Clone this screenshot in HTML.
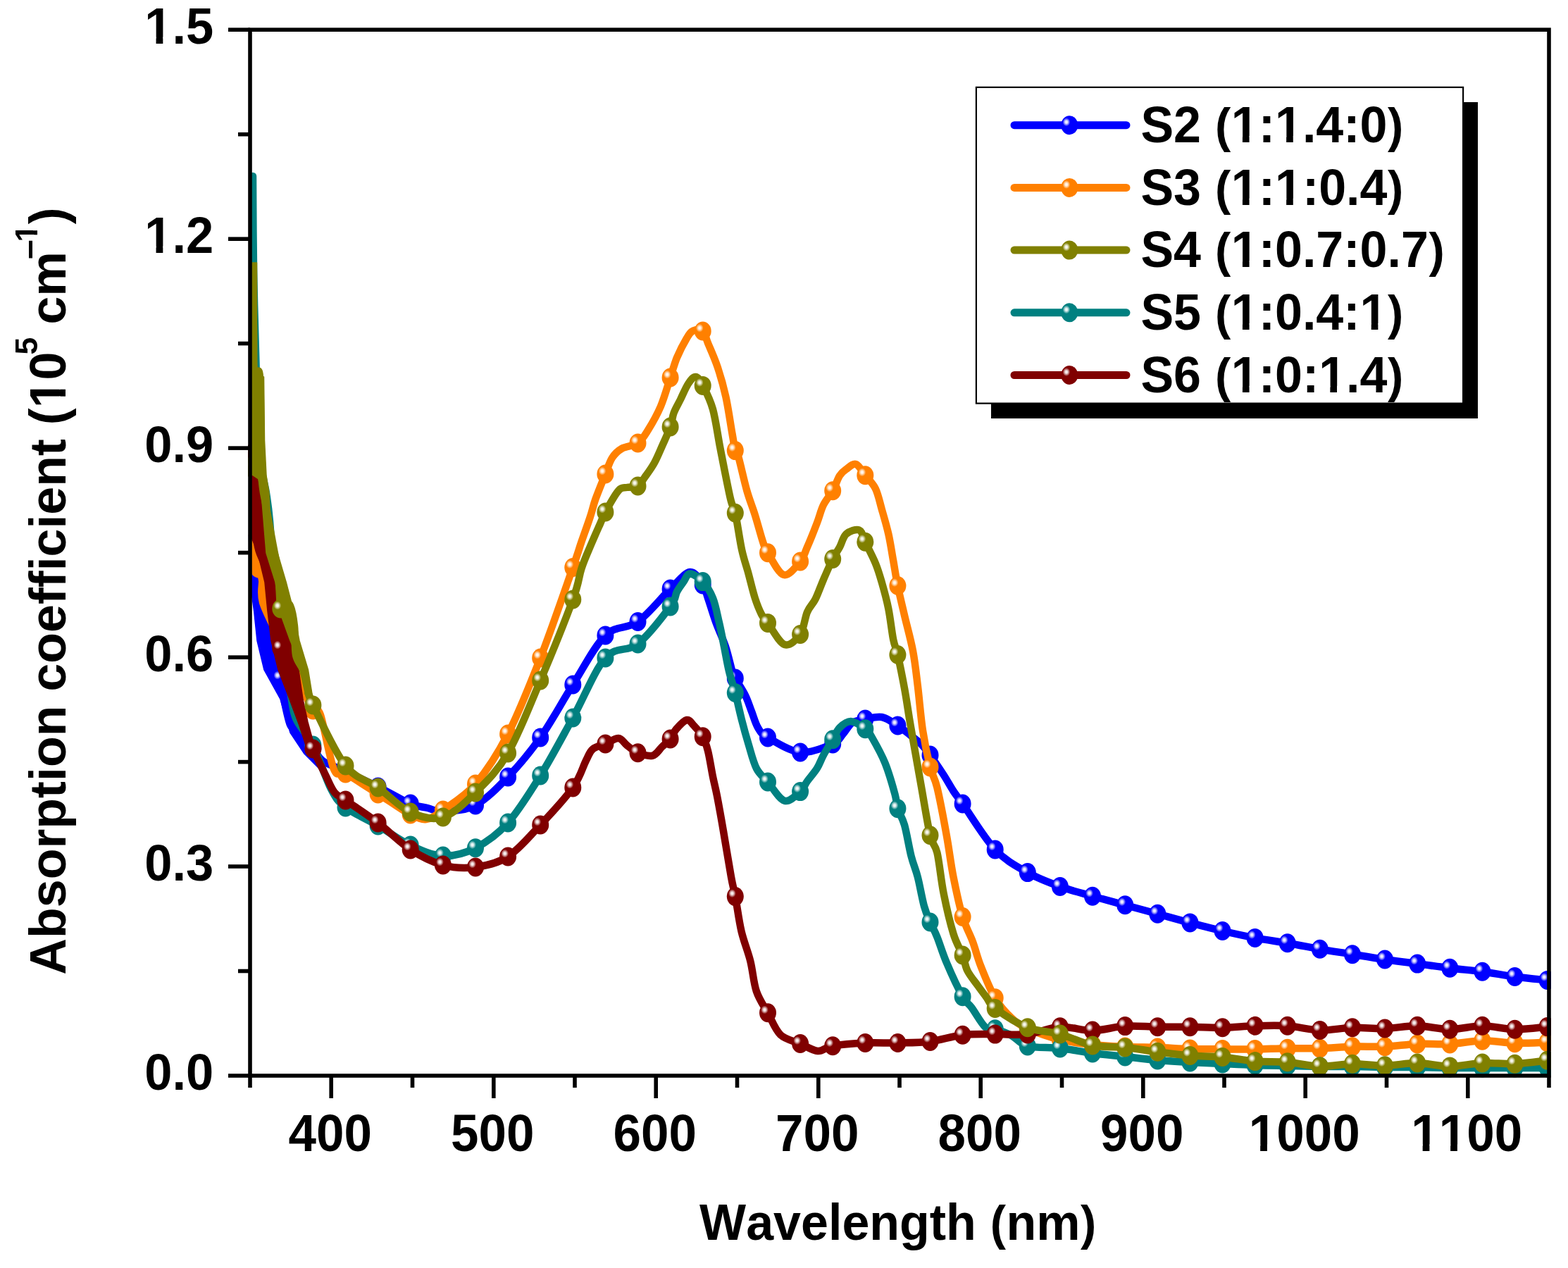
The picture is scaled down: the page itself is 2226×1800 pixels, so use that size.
<!DOCTYPE html>
<html><head><meta charset="utf-8"><title>Absorption coefficient vs Wavelength</title>
<style>html,body{margin:0;padding:0;background:#fff;width:2226px;height:1800px;overflow:hidden;}svg{display:block;}text{font-kerning:none;}</style>
</head><body>
<svg width="2226" height="1800" viewBox="0 0 2226 1800">
<rect width="2226" height="1800" fill="#fff"/>
<defs>
<clipPath id="pc"><rect x="352" y="40" width="1850" height="1490"/></clipPath>
<radialGradient id="hl" cx="0.5" cy="0.5" r="0.5"><stop offset="0" stop-color="#fff" stop-opacity="1"/><stop offset="0.35" stop-color="#fff" stop-opacity="0.85"/><stop offset="1" stop-color="#fff" stop-opacity="0"/></radialGradient>
</defs>
<g clip-path="url(#pc)">
<polygon points="355.0,758.0 361.0,758.0 364.0,785.0 368.0,826.6 381.5,868.0 385.0,909.5 396.0,951.0 412.6,992.5 421.5,1030.0 445.0,1058.0 458.0,1076.0 452.0,1090.0 432.0,1070.0 412.0,1040.0 403.0,1010.0 398.0,992.5 375.0,951.0 365.0,909.5 360.7,868.0 355.0,826.6" fill="#0000ff" stroke="#0000ff" stroke-width="1.5" stroke-linejoin="round"/>
<path d="M358.0,760.0 C358.2,766.7 358.5,786.7 359.0,800.0 C359.5,813.3 359.5,832.5 361.0,840.0 C362.5,847.5 366.2,835.8 368.0,845.0 C369.8,854.2 370.0,881.5 372.0,895.0 C374.0,908.5 377.0,916.0 380.0,926.0 C383.0,936.0 386.9,948.8 390.0,955.0 C393.1,961.2 396.1,956.8 398.3,963.0 C400.5,969.2 400.7,981.0 403.0,992.0 C405.3,1003.0 409.0,1022.0 412.0,1029.0 C415.0,1036.0 415.6,1028.5 421.0,1034.0 C426.4,1039.5 438.2,1054.3 444.4,1062.0 C450.6,1069.7 450.3,1074.5 458.0,1080.0 C465.7,1085.5 477.4,1088.8 490.5,1095.0 C503.6,1101.2 521.3,1109.3 536.6,1117.0 C552.0,1124.7 571.0,1136.0 582.7,1141.0 C594.5,1146.0 599.3,1145.2 607.0,1147.0 C614.7,1148.8 617.5,1152.7 628.9,1152.0 C640.2,1151.3 659.6,1151.2 675.0,1143.0 C690.3,1134.8 705.7,1119.0 721.1,1103.0 C736.4,1087.0 751.8,1068.8 767.2,1047.0 C782.6,1025.2 797.9,996.2 813.3,972.0 C828.7,947.8 844.0,916.9 859.4,902.0 C874.8,887.1 890.1,893.5 905.5,882.5 C920.9,871.5 939.3,847.8 951.6,836.0 C964.0,824.2 971.9,813.0 979.6,812.0 C987.3,811.0 993.5,823.8 997.7,830.0 C1002.0,836.2 1001.9,840.0 1005.0,849.0 C1008.1,858.0 1012.3,872.5 1016.5,884.0 C1020.7,895.5 1026.2,906.5 1030.0,918.0 C1033.8,929.5 1037.2,945.5 1039.5,953.0 C1041.8,960.5 1040.8,957.3 1043.8,963.0 C1046.9,968.7 1054.1,979.2 1058.0,987.0 C1061.9,994.8 1064.0,1002.3 1067.0,1010.0 C1070.0,1017.7 1072.2,1026.8 1076.0,1033.0 C1079.8,1039.2 1079.9,1041.2 1090.0,1047.0 C1100.0,1052.8 1120.7,1066.5 1136.1,1068.0 C1151.4,1069.5 1172.0,1060.3 1182.2,1056.0 C1192.3,1051.7 1192.2,1047.0 1196.8,1042.0 C1201.4,1037.0 1204.8,1029.5 1210.0,1026.0 C1215.2,1022.5 1221.3,1022.3 1228.3,1021.0 C1235.3,1019.7 1244.3,1016.5 1252.0,1018.0 C1259.7,1019.5 1267.5,1025.6 1274.4,1030.0 C1281.3,1034.4 1288.0,1040.2 1293.5,1044.5 C1299.0,1048.8 1302.9,1051.4 1307.4,1056.0 C1311.9,1060.6 1315.1,1064.7 1320.5,1072.0 C1325.9,1079.3 1334.1,1091.5 1339.6,1100.0 C1345.1,1108.5 1349.0,1116.2 1353.5,1123.0 C1358.0,1129.8 1356.7,1127.2 1366.6,1141.0 C1376.5,1154.8 1397.3,1189.7 1412.7,1206.0 C1428.1,1222.3 1443.5,1229.8 1458.8,1238.6 C1474.2,1247.3 1489.6,1252.9 1504.9,1258.5 C1520.3,1264.1 1535.7,1267.8 1551.0,1272.2 C1566.4,1276.6 1581.8,1280.5 1597.2,1284.7 C1612.5,1288.9 1627.9,1293.1 1643.3,1297.3 C1658.6,1301.5 1674.0,1305.9 1689.4,1309.9 C1704.8,1313.9 1720.1,1317.9 1735.5,1321.5 C1750.9,1325.1 1766.2,1328.5 1781.6,1331.4 C1797.0,1334.3 1812.3,1336.1 1827.7,1338.7 C1843.1,1341.3 1858.5,1344.6 1873.8,1347.3 C1889.2,1350.0 1904.6,1352.2 1919.9,1354.7 C1935.3,1357.2 1950.7,1359.8 1966.0,1362.0 C1981.4,1364.2 1996.8,1366.0 2012.1,1368.1 C2027.5,1370.1 2042.9,1372.4 2058.3,1374.3 C2073.6,1376.2 2089.0,1377.2 2104.4,1379.2 C2119.7,1381.2 2135.1,1384.5 2150.5,1386.5 C2165.8,1388.5 2188.9,1390.6 2196.6,1391.4" fill="none" stroke="#0000ff" stroke-width="10.5" stroke-linejoin="round" stroke-linecap="round"/>
<ellipse cx="398.3" cy="963.0" rx="12.0" ry="13.5" fill="#0000ff"/><ellipse cx="393.9" cy="958.6" rx="5.4" ry="6" fill="url(#hl)"/>
<ellipse cx="444.4" cy="1062.0" rx="12.0" ry="13.5" fill="#0000ff"/><ellipse cx="440.0" cy="1057.6" rx="5.4" ry="6" fill="url(#hl)"/>
<ellipse cx="490.5" cy="1095.0" rx="12.0" ry="13.5" fill="#0000ff"/><ellipse cx="486.1" cy="1090.6" rx="5.4" ry="6" fill="url(#hl)"/>
<ellipse cx="536.6" cy="1117.0" rx="12.0" ry="13.5" fill="#0000ff"/><ellipse cx="532.2" cy="1112.6" rx="5.4" ry="6" fill="url(#hl)"/>
<ellipse cx="582.7" cy="1141.0" rx="12.0" ry="13.5" fill="#0000ff"/><ellipse cx="578.3" cy="1136.6" rx="5.4" ry="6" fill="url(#hl)"/>
<ellipse cx="628.9" cy="1152.0" rx="12.0" ry="13.5" fill="#0000ff"/><ellipse cx="624.5" cy="1147.6" rx="5.4" ry="6" fill="url(#hl)"/>
<ellipse cx="675.0" cy="1143.0" rx="12.0" ry="13.5" fill="#0000ff"/><ellipse cx="670.6" cy="1138.6" rx="5.4" ry="6" fill="url(#hl)"/>
<ellipse cx="721.1" cy="1103.0" rx="12.0" ry="13.5" fill="#0000ff"/><ellipse cx="716.7" cy="1098.6" rx="5.4" ry="6" fill="url(#hl)"/>
<ellipse cx="767.2" cy="1047.0" rx="12.0" ry="13.5" fill="#0000ff"/><ellipse cx="762.8" cy="1042.6" rx="5.4" ry="6" fill="url(#hl)"/>
<ellipse cx="813.3" cy="972.0" rx="12.0" ry="13.5" fill="#0000ff"/><ellipse cx="808.9" cy="967.6" rx="5.4" ry="6" fill="url(#hl)"/>
<ellipse cx="859.4" cy="902.0" rx="12.0" ry="13.5" fill="#0000ff"/><ellipse cx="855.0" cy="897.6" rx="5.4" ry="6" fill="url(#hl)"/>
<ellipse cx="905.5" cy="882.5" rx="12.0" ry="13.5" fill="#0000ff"/><ellipse cx="901.1" cy="878.1" rx="5.4" ry="6" fill="url(#hl)"/>
<ellipse cx="951.6" cy="836.0" rx="12.0" ry="13.5" fill="#0000ff"/><ellipse cx="947.2" cy="831.6" rx="5.4" ry="6" fill="url(#hl)"/>
<ellipse cx="997.7" cy="830.0" rx="12.0" ry="13.5" fill="#0000ff"/><ellipse cx="993.3" cy="825.6" rx="5.4" ry="6" fill="url(#hl)"/>
<ellipse cx="1043.8" cy="963.0" rx="12.0" ry="13.5" fill="#0000ff"/><ellipse cx="1039.4" cy="958.6" rx="5.4" ry="6" fill="url(#hl)"/>
<ellipse cx="1090.0" cy="1047.0" rx="12.0" ry="13.5" fill="#0000ff"/><ellipse cx="1085.5" cy="1042.6" rx="5.4" ry="6" fill="url(#hl)"/>
<ellipse cx="1136.1" cy="1068.0" rx="12.0" ry="13.5" fill="#0000ff"/><ellipse cx="1131.7" cy="1063.6" rx="5.4" ry="6" fill="url(#hl)"/>
<ellipse cx="1182.2" cy="1056.0" rx="12.0" ry="13.5" fill="#0000ff"/><ellipse cx="1177.8" cy="1051.6" rx="5.4" ry="6" fill="url(#hl)"/>
<ellipse cx="1228.3" cy="1021.0" rx="12.0" ry="13.5" fill="#0000ff"/><ellipse cx="1223.9" cy="1016.6" rx="5.4" ry="6" fill="url(#hl)"/>
<ellipse cx="1274.4" cy="1030.0" rx="12.0" ry="13.5" fill="#0000ff"/><ellipse cx="1270.0" cy="1025.6" rx="5.4" ry="6" fill="url(#hl)"/>
<ellipse cx="1320.5" cy="1072.0" rx="12.0" ry="13.5" fill="#0000ff"/><ellipse cx="1316.1" cy="1067.6" rx="5.4" ry="6" fill="url(#hl)"/>
<ellipse cx="1366.6" cy="1141.0" rx="12.0" ry="13.5" fill="#0000ff"/><ellipse cx="1362.2" cy="1136.6" rx="5.4" ry="6" fill="url(#hl)"/>
<ellipse cx="1412.7" cy="1206.0" rx="12.0" ry="13.5" fill="#0000ff"/><ellipse cx="1408.3" cy="1201.6" rx="5.4" ry="6" fill="url(#hl)"/>
<ellipse cx="1458.8" cy="1238.6" rx="12.0" ry="13.5" fill="#0000ff"/><ellipse cx="1454.4" cy="1234.2" rx="5.4" ry="6" fill="url(#hl)"/>
<ellipse cx="1504.9" cy="1258.5" rx="12.0" ry="13.5" fill="#0000ff"/><ellipse cx="1500.5" cy="1254.1" rx="5.4" ry="6" fill="url(#hl)"/>
<ellipse cx="1551.0" cy="1272.2" rx="12.0" ry="13.5" fill="#0000ff"/><ellipse cx="1546.6" cy="1267.8" rx="5.4" ry="6" fill="url(#hl)"/>
<ellipse cx="1597.2" cy="1284.7" rx="12.0" ry="13.5" fill="#0000ff"/><ellipse cx="1592.8" cy="1280.3" rx="5.4" ry="6" fill="url(#hl)"/>
<ellipse cx="1643.3" cy="1297.3" rx="12.0" ry="13.5" fill="#0000ff"/><ellipse cx="1638.9" cy="1292.9" rx="5.4" ry="6" fill="url(#hl)"/>
<ellipse cx="1689.4" cy="1309.9" rx="12.0" ry="13.5" fill="#0000ff"/><ellipse cx="1685.0" cy="1305.5" rx="5.4" ry="6" fill="url(#hl)"/>
<ellipse cx="1735.5" cy="1321.5" rx="12.0" ry="13.5" fill="#0000ff"/><ellipse cx="1731.1" cy="1317.1" rx="5.4" ry="6" fill="url(#hl)"/>
<ellipse cx="1781.6" cy="1331.4" rx="12.0" ry="13.5" fill="#0000ff"/><ellipse cx="1777.2" cy="1327.0" rx="5.4" ry="6" fill="url(#hl)"/>
<ellipse cx="1827.7" cy="1338.7" rx="12.0" ry="13.5" fill="#0000ff"/><ellipse cx="1823.3" cy="1334.3" rx="5.4" ry="6" fill="url(#hl)"/>
<ellipse cx="1873.8" cy="1347.3" rx="12.0" ry="13.5" fill="#0000ff"/><ellipse cx="1869.4" cy="1342.9" rx="5.4" ry="6" fill="url(#hl)"/>
<ellipse cx="1919.9" cy="1354.7" rx="12.0" ry="13.5" fill="#0000ff"/><ellipse cx="1915.5" cy="1350.3" rx="5.4" ry="6" fill="url(#hl)"/>
<ellipse cx="1966.0" cy="1362.0" rx="12.0" ry="13.5" fill="#0000ff"/><ellipse cx="1961.6" cy="1357.6" rx="5.4" ry="6" fill="url(#hl)"/>
<ellipse cx="2012.1" cy="1368.1" rx="12.0" ry="13.5" fill="#0000ff"/><ellipse cx="2007.7" cy="1363.7" rx="5.4" ry="6" fill="url(#hl)"/>
<ellipse cx="2058.3" cy="1374.3" rx="12.0" ry="13.5" fill="#0000ff"/><ellipse cx="2053.9" cy="1369.9" rx="5.4" ry="6" fill="url(#hl)"/>
<ellipse cx="2104.4" cy="1379.2" rx="12.0" ry="13.5" fill="#0000ff"/><ellipse cx="2100.0" cy="1374.8" rx="5.4" ry="6" fill="url(#hl)"/>
<ellipse cx="2150.5" cy="1386.5" rx="12.0" ry="13.5" fill="#0000ff"/><ellipse cx="2146.1" cy="1382.1" rx="5.4" ry="6" fill="url(#hl)"/>
<ellipse cx="2196.6" cy="1391.4" rx="12.0" ry="13.5" fill="#0000ff"/><ellipse cx="2192.2" cy="1387.0" rx="5.4" ry="6" fill="url(#hl)"/>
<polygon points="361.0,758.0 367.0,758.0 368.0,785.0 378.0,826.6 385.0,868.0 405.0,909.5 431.0,951.0 440.0,985.0 452.0,1010.0 444.0,1018.0 425.0,975.0 420.0,951.0 395.0,909.5 380.0,868.0 368.0,826.6 361.5,785.0 361.0,758.0" fill="#ff8000" stroke="#ff8000" stroke-width="1.5" stroke-linejoin="round"/>
<path d="M358.0,759.0 C358.5,764.2 360.3,781.2 361.0,790.0 C361.7,798.8 360.2,807.0 362.0,812.0 C363.8,817.0 370.2,812.8 372.0,820.0 C373.8,827.2 368.6,840.0 373.0,855.0 C377.4,870.0 389.3,890.5 398.3,910.0 C407.3,929.5 419.3,955.7 427.0,972.0 C434.7,988.3 439.7,1000.8 444.4,1008.0 C449.1,1015.2 450.1,1001.0 455.0,1015.0 C459.9,1029.0 468.1,1078.2 474.0,1092.0 C479.9,1105.8 480.1,1092.2 490.5,1098.0 C501.0,1103.8 525.0,1119.7 536.6,1127.0 C548.2,1134.3 552.3,1137.2 560.0,1142.0 C567.7,1146.8 575.2,1152.5 582.7,1156.0 C590.2,1159.5 597.3,1164.0 605.0,1163.0 C612.7,1162.0 617.2,1158.3 628.9,1150.0 C640.5,1141.7 659.6,1131.0 675.0,1113.0 C690.3,1095.0 705.7,1071.8 721.1,1042.0 C736.4,1012.2 751.8,973.4 767.2,934.0 C782.6,894.6 803.6,833.0 813.3,805.5 C823.0,778.0 821.4,780.8 825.5,769.0 C829.6,757.2 834.3,744.6 837.6,734.5 C840.9,724.4 841.8,718.9 845.4,708.6 C849.0,698.4 855.5,682.8 859.4,673.0 C863.3,663.2 865.1,656.1 869.0,650.0 C872.9,643.9 876.9,640.1 883.0,636.6 C889.1,633.1 899.4,633.3 905.5,629.0 C911.6,624.7 914.3,619.7 919.7,611.0 C925.1,602.3 932.7,589.2 938.0,576.7 C943.3,564.2 947.8,547.5 951.6,536.0 C955.5,524.5 957.1,516.9 961.0,507.6 C964.9,498.3 971.2,486.4 975.0,480.0 C978.8,473.6 980.2,471.2 984.0,469.5 C987.8,467.8 994.2,467.1 997.7,470.0 C1001.2,472.9 1001.5,478.4 1005.0,487.0 C1008.5,495.6 1014.6,508.8 1018.8,521.4 C1023.0,534.0 1026.8,547.2 1030.3,562.9 C1033.8,578.6 1037.2,603.0 1039.5,615.8 C1041.8,628.6 1042.3,633.8 1043.8,639.6 C1045.4,645.4 1046.1,640.9 1048.8,650.4 C1051.5,659.9 1056.5,683.1 1060.3,696.5 C1064.1,709.9 1068.0,718.8 1071.8,731.0 C1075.6,743.2 1080.3,761.0 1083.3,770.0 C1086.3,779.0 1085.0,777.0 1090.0,784.7 C1094.9,792.4 1105.0,814.0 1112.7,816.0 C1120.4,818.0 1130.5,803.5 1136.1,797.0 C1141.6,790.5 1142.0,785.9 1146.0,776.7 C1150.0,767.5 1156.2,752.0 1160.0,742.0 C1163.8,732.0 1165.3,724.3 1169.0,716.8 C1172.7,709.2 1178.3,703.6 1182.2,696.7 C1186.0,689.8 1188.8,680.4 1192.0,675.3 C1195.2,670.2 1197.5,668.7 1201.4,666.0 C1205.3,663.3 1210.7,657.5 1215.2,659.0 C1219.7,660.5 1223.7,669.0 1228.3,674.8 C1232.9,680.6 1238.9,685.6 1242.9,693.7 C1246.9,701.9 1248.9,713.0 1252.0,723.7 C1255.1,734.4 1258.6,746.1 1261.3,758.0 C1264.0,769.9 1265.8,782.8 1268.0,795.0 C1270.2,807.2 1271.7,818.4 1274.4,831.5 C1277.1,844.6 1280.4,858.1 1284.0,873.5 C1287.6,888.9 1292.8,907.1 1296.0,924.0 C1299.2,940.9 1300.7,956.2 1303.0,975.0 C1305.3,993.8 1307.1,1018.0 1310.0,1037.0 C1312.9,1056.0 1317.1,1075.5 1320.5,1089.0 C1323.9,1102.5 1326.5,1101.7 1330.4,1118.0 C1334.3,1134.3 1340.2,1165.8 1344.0,1187.0 C1347.8,1208.2 1349.7,1225.9 1353.5,1245.0 C1357.3,1264.1 1362.0,1286.2 1366.6,1301.5 C1371.2,1316.8 1376.7,1325.2 1381.0,1337.0 C1385.3,1348.8 1387.3,1358.7 1392.6,1372.0 C1397.9,1385.3 1405.5,1404.6 1412.7,1416.8 C1420.0,1429.0 1428.3,1437.8 1436.0,1445.0 C1443.7,1452.2 1447.3,1454.8 1458.8,1460.0 C1470.3,1465.2 1489.6,1472.2 1504.9,1476.0 C1520.3,1479.8 1535.7,1481.3 1551.0,1483.0 C1566.4,1484.7 1581.8,1485.3 1597.2,1486.0 C1612.5,1486.7 1627.9,1486.5 1643.3,1487.0 C1658.6,1487.5 1674.0,1488.6 1689.4,1489.0 C1704.8,1489.4 1720.1,1489.3 1735.5,1489.4 C1750.9,1489.5 1766.2,1489.6 1781.6,1489.4 C1797.0,1489.2 1812.3,1488.4 1827.7,1488.2 C1843.1,1488.0 1858.5,1488.6 1873.8,1488.2 C1889.2,1487.8 1904.6,1486.1 1919.9,1485.7 C1935.3,1485.3 1950.7,1486.3 1966.0,1485.7 C1981.4,1485.1 1996.8,1482.6 2012.1,1482.0 C2027.5,1481.4 2042.9,1482.8 2058.3,1482.0 C2073.6,1481.2 2089.0,1477.4 2104.4,1477.2 C2119.7,1477.0 2135.1,1480.4 2150.5,1480.8 C2165.8,1481.2 2188.9,1479.8 2196.6,1479.6" fill="none" stroke="#ff8000" stroke-width="10.5" stroke-linejoin="round" stroke-linecap="round"/>
<ellipse cx="398.3" cy="910.0" rx="12.0" ry="13.5" fill="#ff8000"/><ellipse cx="393.9" cy="905.6" rx="5.4" ry="6" fill="url(#hl)"/>
<ellipse cx="444.4" cy="1008.0" rx="12.0" ry="13.5" fill="#ff8000"/><ellipse cx="440.0" cy="1003.6" rx="5.4" ry="6" fill="url(#hl)"/>
<ellipse cx="490.5" cy="1098.0" rx="12.0" ry="13.5" fill="#ff8000"/><ellipse cx="486.1" cy="1093.6" rx="5.4" ry="6" fill="url(#hl)"/>
<ellipse cx="536.6" cy="1127.0" rx="12.0" ry="13.5" fill="#ff8000"/><ellipse cx="532.2" cy="1122.6" rx="5.4" ry="6" fill="url(#hl)"/>
<ellipse cx="582.7" cy="1156.0" rx="12.0" ry="13.5" fill="#ff8000"/><ellipse cx="578.3" cy="1151.6" rx="5.4" ry="6" fill="url(#hl)"/>
<ellipse cx="628.9" cy="1150.0" rx="12.0" ry="13.5" fill="#ff8000"/><ellipse cx="624.5" cy="1145.6" rx="5.4" ry="6" fill="url(#hl)"/>
<ellipse cx="675.0" cy="1113.0" rx="12.0" ry="13.5" fill="#ff8000"/><ellipse cx="670.6" cy="1108.6" rx="5.4" ry="6" fill="url(#hl)"/>
<ellipse cx="721.1" cy="1042.0" rx="12.0" ry="13.5" fill="#ff8000"/><ellipse cx="716.7" cy="1037.6" rx="5.4" ry="6" fill="url(#hl)"/>
<ellipse cx="767.2" cy="934.0" rx="12.0" ry="13.5" fill="#ff8000"/><ellipse cx="762.8" cy="929.6" rx="5.4" ry="6" fill="url(#hl)"/>
<ellipse cx="813.3" cy="805.5" rx="12.0" ry="13.5" fill="#ff8000"/><ellipse cx="808.9" cy="801.1" rx="5.4" ry="6" fill="url(#hl)"/>
<ellipse cx="859.4" cy="673.0" rx="12.0" ry="13.5" fill="#ff8000"/><ellipse cx="855.0" cy="668.6" rx="5.4" ry="6" fill="url(#hl)"/>
<ellipse cx="905.5" cy="629.0" rx="12.0" ry="13.5" fill="#ff8000"/><ellipse cx="901.1" cy="624.6" rx="5.4" ry="6" fill="url(#hl)"/>
<ellipse cx="951.6" cy="536.0" rx="12.0" ry="13.5" fill="#ff8000"/><ellipse cx="947.2" cy="531.6" rx="5.4" ry="6" fill="url(#hl)"/>
<ellipse cx="997.7" cy="470.0" rx="12.0" ry="13.5" fill="#ff8000"/><ellipse cx="993.3" cy="465.6" rx="5.4" ry="6" fill="url(#hl)"/>
<ellipse cx="1043.8" cy="639.6" rx="12.0" ry="13.5" fill="#ff8000"/><ellipse cx="1039.4" cy="635.2" rx="5.4" ry="6" fill="url(#hl)"/>
<ellipse cx="1090.0" cy="784.7" rx="12.0" ry="13.5" fill="#ff8000"/><ellipse cx="1085.5" cy="780.3" rx="5.4" ry="6" fill="url(#hl)"/>
<ellipse cx="1136.1" cy="797.0" rx="12.0" ry="13.5" fill="#ff8000"/><ellipse cx="1131.7" cy="792.6" rx="5.4" ry="6" fill="url(#hl)"/>
<ellipse cx="1182.2" cy="696.7" rx="12.0" ry="13.5" fill="#ff8000"/><ellipse cx="1177.8" cy="692.3" rx="5.4" ry="6" fill="url(#hl)"/>
<ellipse cx="1228.3" cy="674.8" rx="12.0" ry="13.5" fill="#ff8000"/><ellipse cx="1223.9" cy="670.4" rx="5.4" ry="6" fill="url(#hl)"/>
<ellipse cx="1274.4" cy="831.5" rx="12.0" ry="13.5" fill="#ff8000"/><ellipse cx="1270.0" cy="827.1" rx="5.4" ry="6" fill="url(#hl)"/>
<ellipse cx="1320.5" cy="1089.0" rx="12.0" ry="13.5" fill="#ff8000"/><ellipse cx="1316.1" cy="1084.6" rx="5.4" ry="6" fill="url(#hl)"/>
<ellipse cx="1366.6" cy="1301.5" rx="12.0" ry="13.5" fill="#ff8000"/><ellipse cx="1362.2" cy="1297.1" rx="5.4" ry="6" fill="url(#hl)"/>
<ellipse cx="1412.7" cy="1416.8" rx="12.0" ry="13.5" fill="#ff8000"/><ellipse cx="1408.3" cy="1412.4" rx="5.4" ry="6" fill="url(#hl)"/>
<ellipse cx="1458.8" cy="1460.0" rx="12.0" ry="13.5" fill="#ff8000"/><ellipse cx="1454.4" cy="1455.6" rx="5.4" ry="6" fill="url(#hl)"/>
<ellipse cx="1504.9" cy="1476.0" rx="12.0" ry="13.5" fill="#ff8000"/><ellipse cx="1500.5" cy="1471.6" rx="5.4" ry="6" fill="url(#hl)"/>
<ellipse cx="1551.0" cy="1483.0" rx="12.0" ry="13.5" fill="#ff8000"/><ellipse cx="1546.6" cy="1478.6" rx="5.4" ry="6" fill="url(#hl)"/>
<ellipse cx="1597.2" cy="1486.0" rx="12.0" ry="13.5" fill="#ff8000"/><ellipse cx="1592.8" cy="1481.6" rx="5.4" ry="6" fill="url(#hl)"/>
<ellipse cx="1643.3" cy="1487.0" rx="12.0" ry="13.5" fill="#ff8000"/><ellipse cx="1638.9" cy="1482.6" rx="5.4" ry="6" fill="url(#hl)"/>
<ellipse cx="1689.4" cy="1489.0" rx="12.0" ry="13.5" fill="#ff8000"/><ellipse cx="1685.0" cy="1484.6" rx="5.4" ry="6" fill="url(#hl)"/>
<ellipse cx="1735.5" cy="1489.4" rx="12.0" ry="13.5" fill="#ff8000"/><ellipse cx="1731.1" cy="1485.0" rx="5.4" ry="6" fill="url(#hl)"/>
<ellipse cx="1781.6" cy="1489.4" rx="12.0" ry="13.5" fill="#ff8000"/><ellipse cx="1777.2" cy="1485.0" rx="5.4" ry="6" fill="url(#hl)"/>
<ellipse cx="1827.7" cy="1488.2" rx="12.0" ry="13.5" fill="#ff8000"/><ellipse cx="1823.3" cy="1483.8" rx="5.4" ry="6" fill="url(#hl)"/>
<ellipse cx="1873.8" cy="1488.2" rx="12.0" ry="13.5" fill="#ff8000"/><ellipse cx="1869.4" cy="1483.8" rx="5.4" ry="6" fill="url(#hl)"/>
<ellipse cx="1919.9" cy="1485.7" rx="12.0" ry="13.5" fill="#ff8000"/><ellipse cx="1915.5" cy="1481.3" rx="5.4" ry="6" fill="url(#hl)"/>
<ellipse cx="1966.0" cy="1485.7" rx="12.0" ry="13.5" fill="#ff8000"/><ellipse cx="1961.6" cy="1481.3" rx="5.4" ry="6" fill="url(#hl)"/>
<ellipse cx="2012.1" cy="1482.0" rx="12.0" ry="13.5" fill="#ff8000"/><ellipse cx="2007.7" cy="1477.6" rx="5.4" ry="6" fill="url(#hl)"/>
<ellipse cx="2058.3" cy="1482.0" rx="12.0" ry="13.5" fill="#ff8000"/><ellipse cx="2053.9" cy="1477.6" rx="5.4" ry="6" fill="url(#hl)"/>
<ellipse cx="2104.4" cy="1477.2" rx="12.0" ry="13.5" fill="#ff8000"/><ellipse cx="2100.0" cy="1472.8" rx="5.4" ry="6" fill="url(#hl)"/>
<ellipse cx="2150.5" cy="1480.8" rx="12.0" ry="13.5" fill="#ff8000"/><ellipse cx="2146.1" cy="1476.4" rx="5.4" ry="6" fill="url(#hl)"/>
<ellipse cx="2196.6" cy="1479.6" rx="12.0" ry="13.5" fill="#ff8000"/><ellipse cx="2192.2" cy="1475.2" rx="5.4" ry="6" fill="url(#hl)"/>
<path d="M359.0,250.0 C359.2,271.7 359.3,338.3 360.0,380.0 C360.7,421.7 361.7,456.7 363.0,500.0 C364.3,543.3 365.5,606.7 368.0,640.0 C370.5,673.3 375.5,683.3 378.0,700.0 C380.5,716.7 381.2,720.3 383.0,740.0 C384.8,759.7 386.4,794.7 389.0,818.0 C391.6,841.3 396.5,866.3 398.3,880.0 C400.1,893.7 397.7,883.3 400.0,900.0 C402.3,916.7 408.7,960.0 412.0,980.0 C415.3,1000.0 414.6,1007.0 420.0,1020.0 C425.4,1033.0 436.1,1041.3 444.4,1058.0 C452.7,1074.7 462.3,1105.3 470.0,1120.0 C477.7,1134.7 479.4,1137.3 490.5,1146.0 C501.6,1154.7 521.3,1163.0 536.6,1172.0 C552.0,1181.0 567.4,1192.8 582.7,1200.0 C598.1,1207.2 613.5,1214.4 628.9,1215.0 C644.2,1215.6 659.6,1211.5 675.0,1203.7 C690.3,1195.9 705.7,1185.1 721.1,1168.0 C736.4,1150.9 751.8,1125.8 767.2,1101.0 C782.6,1076.2 797.9,1046.8 813.3,1019.0 C828.7,991.2 844.0,951.5 859.4,934.0 C874.8,916.5 890.1,926.2 905.5,914.0 C920.9,901.8 942.4,873.3 951.6,861.0 C960.9,848.7 957.9,845.8 961.0,840.0 C964.1,834.2 967.3,830.2 970.4,826.0 C973.5,821.8 975.0,814.7 979.6,814.6 C984.2,814.5 992.3,819.9 997.7,825.6 C1003.1,831.3 1008.1,839.3 1012.0,849.0 C1015.9,858.7 1018.3,872.5 1021.0,884.0 C1023.7,895.5 1025.7,906.5 1028.0,918.0 C1030.3,929.5 1032.4,942.1 1035.0,953.0 C1037.6,963.9 1040.8,972.0 1043.8,983.5 C1046.8,995.0 1049.9,1009.8 1053.0,1022.0 C1056.1,1034.2 1059.1,1045.0 1062.6,1056.5 C1066.1,1068.0 1069.4,1082.1 1074.0,1091.0 C1078.6,1099.9 1083.3,1102.4 1090.0,1110.0 C1096.6,1117.6 1106.1,1134.4 1113.8,1136.7 C1121.5,1139.0 1130.7,1128.2 1136.1,1123.6 C1141.4,1119.0 1142.0,1114.5 1146.0,1109.0 C1150.0,1103.5 1156.2,1096.8 1160.0,1090.6 C1163.8,1084.4 1165.3,1078.8 1169.0,1072.0 C1172.7,1065.2 1178.3,1056.3 1182.2,1049.8 C1186.0,1043.3 1187.7,1037.3 1192.0,1033.0 C1196.3,1028.7 1202.0,1023.7 1208.0,1024.0 C1214.0,1024.3 1223.3,1031.0 1228.3,1034.8 C1233.3,1038.6 1233.3,1038.8 1238.0,1047.0 C1242.7,1055.2 1251.3,1070.3 1256.7,1083.7 C1262.1,1097.1 1267.6,1116.8 1270.5,1127.5 C1273.4,1138.2 1272.1,1140.5 1274.4,1147.7 C1276.6,1155.0 1280.8,1159.8 1284.0,1171.0 C1287.2,1182.2 1290.4,1202.7 1293.5,1215.0 C1296.6,1227.3 1299.7,1233.1 1302.8,1245.0 C1305.9,1256.9 1309.0,1275.8 1312.0,1286.5 C1315.0,1297.2 1317.4,1301.7 1320.5,1309.0 C1323.6,1316.3 1326.5,1320.5 1330.4,1330.2 C1334.3,1339.9 1338.0,1352.9 1344.0,1367.0 C1350.0,1381.1 1360.7,1404.1 1366.6,1414.7 C1372.5,1425.3 1374.3,1423.4 1379.6,1430.6 C1384.9,1437.8 1393.0,1452.8 1398.5,1457.8 C1404.0,1462.8 1406.5,1458.8 1412.7,1460.8 C1419.0,1462.8 1428.3,1466.0 1436.0,1470.0 C1443.7,1474.0 1447.3,1482.0 1458.8,1485.0 C1470.3,1488.0 1489.6,1486.3 1504.9,1488.0 C1520.3,1489.7 1535.7,1493.0 1551.0,1495.0 C1566.4,1497.0 1581.8,1498.3 1597.2,1500.0 C1612.5,1501.7 1627.9,1503.7 1643.3,1505.0 C1658.6,1506.3 1674.0,1507.2 1689.4,1508.0 C1704.8,1508.8 1720.1,1509.3 1735.5,1510.0 C1750.9,1510.7 1766.2,1511.5 1781.6,1512.0 C1797.0,1512.5 1812.3,1512.7 1827.7,1513.0 C1843.1,1513.3 1858.5,1513.8 1873.8,1514.0 C1889.2,1514.2 1904.6,1513.8 1919.9,1514.0 C1935.3,1514.2 1950.7,1514.8 1966.0,1515.0 C1981.4,1515.2 1996.8,1514.8 2012.1,1515.0 C2027.5,1515.2 2042.9,1515.8 2058.3,1516.0 C2073.6,1516.2 2089.0,1516.0 2104.4,1516.0 C2119.7,1516.0 2135.1,1516.0 2150.5,1516.0 C2165.8,1516.0 2188.9,1516.0 2196.6,1516.0" fill="none" stroke="#008080" stroke-width="10.5" stroke-linejoin="round" stroke-linecap="round"/>
<ellipse cx="398.3" cy="880.0" rx="12.0" ry="13.5" fill="#008080"/><ellipse cx="393.9" cy="875.6" rx="5.4" ry="6" fill="url(#hl)"/>
<ellipse cx="444.4" cy="1058.0" rx="12.0" ry="13.5" fill="#008080"/><ellipse cx="440.0" cy="1053.6" rx="5.4" ry="6" fill="url(#hl)"/>
<ellipse cx="490.5" cy="1146.0" rx="12.0" ry="13.5" fill="#008080"/><ellipse cx="486.1" cy="1141.6" rx="5.4" ry="6" fill="url(#hl)"/>
<ellipse cx="536.6" cy="1172.0" rx="12.0" ry="13.5" fill="#008080"/><ellipse cx="532.2" cy="1167.6" rx="5.4" ry="6" fill="url(#hl)"/>
<ellipse cx="582.7" cy="1200.0" rx="12.0" ry="13.5" fill="#008080"/><ellipse cx="578.3" cy="1195.6" rx="5.4" ry="6" fill="url(#hl)"/>
<ellipse cx="628.9" cy="1215.0" rx="12.0" ry="13.5" fill="#008080"/><ellipse cx="624.5" cy="1210.6" rx="5.4" ry="6" fill="url(#hl)"/>
<ellipse cx="675.0" cy="1203.7" rx="12.0" ry="13.5" fill="#008080"/><ellipse cx="670.6" cy="1199.3" rx="5.4" ry="6" fill="url(#hl)"/>
<ellipse cx="721.1" cy="1168.0" rx="12.0" ry="13.5" fill="#008080"/><ellipse cx="716.7" cy="1163.6" rx="5.4" ry="6" fill="url(#hl)"/>
<ellipse cx="767.2" cy="1101.0" rx="12.0" ry="13.5" fill="#008080"/><ellipse cx="762.8" cy="1096.6" rx="5.4" ry="6" fill="url(#hl)"/>
<ellipse cx="813.3" cy="1019.0" rx="12.0" ry="13.5" fill="#008080"/><ellipse cx="808.9" cy="1014.6" rx="5.4" ry="6" fill="url(#hl)"/>
<ellipse cx="859.4" cy="934.0" rx="12.0" ry="13.5" fill="#008080"/><ellipse cx="855.0" cy="929.6" rx="5.4" ry="6" fill="url(#hl)"/>
<ellipse cx="905.5" cy="914.0" rx="12.0" ry="13.5" fill="#008080"/><ellipse cx="901.1" cy="909.6" rx="5.4" ry="6" fill="url(#hl)"/>
<ellipse cx="951.6" cy="861.0" rx="12.0" ry="13.5" fill="#008080"/><ellipse cx="947.2" cy="856.6" rx="5.4" ry="6" fill="url(#hl)"/>
<ellipse cx="997.7" cy="825.6" rx="12.0" ry="13.5" fill="#008080"/><ellipse cx="993.3" cy="821.2" rx="5.4" ry="6" fill="url(#hl)"/>
<ellipse cx="1043.8" cy="983.5" rx="12.0" ry="13.5" fill="#008080"/><ellipse cx="1039.4" cy="979.1" rx="5.4" ry="6" fill="url(#hl)"/>
<ellipse cx="1090.0" cy="1110.0" rx="12.0" ry="13.5" fill="#008080"/><ellipse cx="1085.5" cy="1105.6" rx="5.4" ry="6" fill="url(#hl)"/>
<ellipse cx="1136.1" cy="1123.6" rx="12.0" ry="13.5" fill="#008080"/><ellipse cx="1131.7" cy="1119.2" rx="5.4" ry="6" fill="url(#hl)"/>
<ellipse cx="1182.2" cy="1049.8" rx="12.0" ry="13.5" fill="#008080"/><ellipse cx="1177.8" cy="1045.4" rx="5.4" ry="6" fill="url(#hl)"/>
<ellipse cx="1228.3" cy="1034.8" rx="12.0" ry="13.5" fill="#008080"/><ellipse cx="1223.9" cy="1030.4" rx="5.4" ry="6" fill="url(#hl)"/>
<ellipse cx="1274.4" cy="1147.7" rx="12.0" ry="13.5" fill="#008080"/><ellipse cx="1270.0" cy="1143.3" rx="5.4" ry="6" fill="url(#hl)"/>
<ellipse cx="1320.5" cy="1309.0" rx="12.0" ry="13.5" fill="#008080"/><ellipse cx="1316.1" cy="1304.6" rx="5.4" ry="6" fill="url(#hl)"/>
<ellipse cx="1366.6" cy="1414.7" rx="12.0" ry="13.5" fill="#008080"/><ellipse cx="1362.2" cy="1410.3" rx="5.4" ry="6" fill="url(#hl)"/>
<ellipse cx="1412.7" cy="1460.8" rx="12.0" ry="13.5" fill="#008080"/><ellipse cx="1408.3" cy="1456.4" rx="5.4" ry="6" fill="url(#hl)"/>
<ellipse cx="1458.8" cy="1485.0" rx="12.0" ry="13.5" fill="#008080"/><ellipse cx="1454.4" cy="1480.6" rx="5.4" ry="6" fill="url(#hl)"/>
<ellipse cx="1504.9" cy="1488.0" rx="12.0" ry="13.5" fill="#008080"/><ellipse cx="1500.5" cy="1483.6" rx="5.4" ry="6" fill="url(#hl)"/>
<ellipse cx="1551.0" cy="1495.0" rx="12.0" ry="13.5" fill="#008080"/><ellipse cx="1546.6" cy="1490.6" rx="5.4" ry="6" fill="url(#hl)"/>
<ellipse cx="1597.2" cy="1500.0" rx="12.0" ry="13.5" fill="#008080"/><ellipse cx="1592.8" cy="1495.6" rx="5.4" ry="6" fill="url(#hl)"/>
<ellipse cx="1643.3" cy="1505.0" rx="12.0" ry="13.5" fill="#008080"/><ellipse cx="1638.9" cy="1500.6" rx="5.4" ry="6" fill="url(#hl)"/>
<ellipse cx="1689.4" cy="1508.0" rx="12.0" ry="13.5" fill="#008080"/><ellipse cx="1685.0" cy="1503.6" rx="5.4" ry="6" fill="url(#hl)"/>
<ellipse cx="1735.5" cy="1510.0" rx="12.0" ry="13.5" fill="#008080"/><ellipse cx="1731.1" cy="1505.6" rx="5.4" ry="6" fill="url(#hl)"/>
<ellipse cx="1781.6" cy="1512.0" rx="12.0" ry="13.5" fill="#008080"/><ellipse cx="1777.2" cy="1507.6" rx="5.4" ry="6" fill="url(#hl)"/>
<ellipse cx="1827.7" cy="1513.0" rx="12.0" ry="13.5" fill="#008080"/><ellipse cx="1823.3" cy="1508.6" rx="5.4" ry="6" fill="url(#hl)"/>
<ellipse cx="1873.8" cy="1514.0" rx="12.0" ry="13.5" fill="#008080"/><ellipse cx="1869.4" cy="1509.6" rx="5.4" ry="6" fill="url(#hl)"/>
<ellipse cx="1919.9" cy="1514.0" rx="12.0" ry="13.5" fill="#008080"/><ellipse cx="1915.5" cy="1509.6" rx="5.4" ry="6" fill="url(#hl)"/>
<ellipse cx="1966.0" cy="1515.0" rx="12.0" ry="13.5" fill="#008080"/><ellipse cx="1961.6" cy="1510.6" rx="5.4" ry="6" fill="url(#hl)"/>
<ellipse cx="2012.1" cy="1515.0" rx="12.0" ry="13.5" fill="#008080"/><ellipse cx="2007.7" cy="1510.6" rx="5.4" ry="6" fill="url(#hl)"/>
<ellipse cx="2058.3" cy="1516.0" rx="12.0" ry="13.5" fill="#008080"/><ellipse cx="2053.9" cy="1511.6" rx="5.4" ry="6" fill="url(#hl)"/>
<ellipse cx="2104.4" cy="1516.0" rx="12.0" ry="13.5" fill="#008080"/><ellipse cx="2100.0" cy="1511.6" rx="5.4" ry="6" fill="url(#hl)"/>
<ellipse cx="2150.5" cy="1516.0" rx="12.0" ry="13.5" fill="#008080"/><ellipse cx="2146.1" cy="1511.6" rx="5.4" ry="6" fill="url(#hl)"/>
<ellipse cx="2196.6" cy="1516.0" rx="12.0" ry="13.5" fill="#008080"/><ellipse cx="2192.2" cy="1511.6" rx="5.4" ry="6" fill="url(#hl)"/>
<polygon points="355.0,633.0 366.0,633.0 373.0,671.0 375.0,758.0 379.0,785.0 392.0,826.6 399.0,868.0 413.0,909.5 424.0,951.0 430.0,992.5 437.0,1025.0 446.0,1058.0 436.0,1064.0 425.0,1030.0 411.0,992.5 395.0,951.0 385.0,909.5 380.0,868.0 376.0,826.6 366.0,785.0 355.0,758.0" fill="#800000" stroke="#800000" stroke-width="1.5" stroke-linejoin="round"/>
<ellipse cx="352.2" cy="645.0" rx="12.0" ry="13.5" fill="#800000"/><ellipse cx="347.8" cy="640.6" rx="5.4" ry="6" fill="url(#hl)"/>
<path d="M358.0,634.0 C358.5,645.0 359.8,677.3 361.0,700.0 C362.2,722.7 362.7,753.3 365.0,770.0 C367.3,786.7 371.5,790.0 375.0,800.0 C378.5,810.0 383.5,818.3 386.0,830.0 C388.5,841.7 387.9,855.0 390.0,870.0 C392.1,885.0 395.1,909.2 398.3,920.0 C401.5,930.8 405.4,924.2 409.0,935.0 C412.6,945.8 416.5,970.0 420.0,985.0 C423.5,1000.0 425.9,1012.0 430.0,1025.0 C434.1,1038.0 439.1,1050.5 444.4,1063.0 C449.7,1075.5 456.9,1089.7 462.0,1100.0 C467.1,1110.3 470.2,1119.0 475.0,1125.0 C479.8,1131.0 480.2,1128.8 490.5,1136.0 C500.8,1143.2 521.3,1156.3 536.6,1168.0 C552.0,1179.7 567.4,1196.0 582.7,1206.0 C598.1,1216.0 613.5,1223.8 628.9,1228.0 C644.2,1232.2 659.6,1233.0 675.0,1231.0 C690.3,1229.0 705.7,1226.0 721.1,1216.0 C736.4,1206.0 751.8,1187.3 767.2,1171.0 C782.6,1154.7 802.5,1133.2 813.3,1118.0 C824.1,1102.8 827.3,1088.6 832.0,1079.5 C836.7,1070.4 836.8,1067.3 841.4,1063.4 C846.0,1059.5 853.3,1058.6 859.4,1056.0 C865.5,1053.4 872.9,1047.7 878.0,1048.0 C883.1,1048.3 885.4,1054.5 890.0,1058.0 C894.6,1061.5 899.4,1066.3 905.5,1068.7 C911.6,1071.1 920.9,1074.0 926.6,1072.6 C932.3,1071.1 935.8,1063.9 940.0,1060.0 C944.2,1056.1 948.3,1053.2 951.6,1049.0 C955.0,1044.8 956.1,1039.5 960.0,1035.0 C963.9,1030.5 970.8,1022.8 975.0,1022.0 C979.2,1021.2 981.2,1026.0 985.0,1030.0 C988.8,1034.0 994.4,1039.7 997.7,1045.7 C1001.1,1051.7 1002.6,1056.5 1005.0,1066.0 C1007.4,1075.5 1009.8,1091.9 1012.0,1102.6 C1014.2,1113.3 1015.5,1117.1 1018.0,1130.0 C1020.5,1142.9 1023.7,1160.8 1027.0,1180.0 C1030.3,1199.2 1035.2,1229.6 1038.0,1245.0 C1040.8,1260.4 1041.4,1259.8 1043.8,1272.6 C1046.3,1285.4 1048.9,1306.7 1052.5,1322.0 C1056.1,1337.3 1061.8,1350.3 1065.3,1364.5 C1068.8,1378.7 1069.7,1394.8 1073.8,1407.0 C1077.9,1419.2 1084.2,1427.5 1090.0,1437.8 C1095.7,1448.1 1100.3,1461.7 1108.0,1469.0 C1115.7,1476.3 1127.2,1477.7 1136.1,1481.5 C1144.9,1485.3 1153.3,1491.5 1161.0,1492.0 C1168.7,1492.5 1171.0,1486.6 1182.2,1484.7 C1193.4,1482.8 1212.9,1481.2 1228.3,1480.5 C1243.7,1479.8 1259.0,1480.8 1274.4,1480.5 C1289.8,1480.2 1305.1,1480.4 1320.5,1478.5 C1335.9,1476.6 1351.2,1470.9 1366.6,1469.2 C1382.0,1467.5 1397.3,1468.3 1412.7,1468.1 C1428.1,1467.9 1443.5,1469.7 1458.8,1468.0 C1474.2,1466.3 1489.6,1458.5 1504.9,1457.7 C1520.3,1456.9 1535.7,1463.2 1551.0,1463.0 C1566.4,1462.8 1581.8,1457.5 1597.2,1456.6 C1612.5,1455.7 1627.9,1457.5 1643.3,1457.7 C1658.6,1457.9 1674.0,1457.5 1689.4,1457.7 C1704.8,1457.9 1720.1,1459.0 1735.5,1458.8 C1750.9,1458.6 1766.2,1456.7 1781.6,1456.3 C1797.0,1455.9 1812.3,1455.3 1827.7,1456.3 C1843.1,1457.3 1858.5,1462.1 1873.8,1462.5 C1889.2,1462.9 1904.6,1459.2 1919.9,1458.8 C1935.3,1458.4 1950.7,1460.4 1966.0,1460.0 C1981.4,1459.6 1996.8,1456.1 2012.1,1456.3 C2027.5,1456.5 2042.9,1461.2 2058.3,1461.2 C2073.6,1461.2 2089.0,1456.3 2104.4,1456.3 C2119.7,1456.3 2135.1,1461.0 2150.5,1461.2 C2165.8,1461.4 2188.9,1458.2 2196.6,1457.6" fill="none" stroke="#800000" stroke-width="10.5" stroke-linejoin="round" stroke-linecap="round"/>
<ellipse cx="398.3" cy="920.0" rx="12.0" ry="13.5" fill="#800000"/><ellipse cx="393.9" cy="915.6" rx="5.4" ry="6" fill="url(#hl)"/>
<ellipse cx="444.4" cy="1063.0" rx="12.0" ry="13.5" fill="#800000"/><ellipse cx="440.0" cy="1058.6" rx="5.4" ry="6" fill="url(#hl)"/>
<ellipse cx="490.5" cy="1136.0" rx="12.0" ry="13.5" fill="#800000"/><ellipse cx="486.1" cy="1131.6" rx="5.4" ry="6" fill="url(#hl)"/>
<ellipse cx="536.6" cy="1168.0" rx="12.0" ry="13.5" fill="#800000"/><ellipse cx="532.2" cy="1163.6" rx="5.4" ry="6" fill="url(#hl)"/>
<ellipse cx="582.7" cy="1206.0" rx="12.0" ry="13.5" fill="#800000"/><ellipse cx="578.3" cy="1201.6" rx="5.4" ry="6" fill="url(#hl)"/>
<ellipse cx="628.9" cy="1228.0" rx="12.0" ry="13.5" fill="#800000"/><ellipse cx="624.5" cy="1223.6" rx="5.4" ry="6" fill="url(#hl)"/>
<ellipse cx="675.0" cy="1231.0" rx="12.0" ry="13.5" fill="#800000"/><ellipse cx="670.6" cy="1226.6" rx="5.4" ry="6" fill="url(#hl)"/>
<ellipse cx="721.1" cy="1216.0" rx="12.0" ry="13.5" fill="#800000"/><ellipse cx="716.7" cy="1211.6" rx="5.4" ry="6" fill="url(#hl)"/>
<ellipse cx="767.2" cy="1171.0" rx="12.0" ry="13.5" fill="#800000"/><ellipse cx="762.8" cy="1166.6" rx="5.4" ry="6" fill="url(#hl)"/>
<ellipse cx="813.3" cy="1118.0" rx="12.0" ry="13.5" fill="#800000"/><ellipse cx="808.9" cy="1113.6" rx="5.4" ry="6" fill="url(#hl)"/>
<ellipse cx="859.4" cy="1056.0" rx="12.0" ry="13.5" fill="#800000"/><ellipse cx="855.0" cy="1051.6" rx="5.4" ry="6" fill="url(#hl)"/>
<ellipse cx="905.5" cy="1068.7" rx="12.0" ry="13.5" fill="#800000"/><ellipse cx="901.1" cy="1064.3" rx="5.4" ry="6" fill="url(#hl)"/>
<ellipse cx="951.6" cy="1049.0" rx="12.0" ry="13.5" fill="#800000"/><ellipse cx="947.2" cy="1044.6" rx="5.4" ry="6" fill="url(#hl)"/>
<ellipse cx="997.7" cy="1045.7" rx="12.0" ry="13.5" fill="#800000"/><ellipse cx="993.3" cy="1041.3" rx="5.4" ry="6" fill="url(#hl)"/>
<ellipse cx="1043.8" cy="1272.6" rx="12.0" ry="13.5" fill="#800000"/><ellipse cx="1039.4" cy="1268.2" rx="5.4" ry="6" fill="url(#hl)"/>
<ellipse cx="1090.0" cy="1437.8" rx="12.0" ry="13.5" fill="#800000"/><ellipse cx="1085.5" cy="1433.4" rx="5.4" ry="6" fill="url(#hl)"/>
<ellipse cx="1136.1" cy="1481.5" rx="12.0" ry="13.5" fill="#800000"/><ellipse cx="1131.7" cy="1477.1" rx="5.4" ry="6" fill="url(#hl)"/>
<ellipse cx="1182.2" cy="1484.7" rx="12.0" ry="13.5" fill="#800000"/><ellipse cx="1177.8" cy="1480.3" rx="5.4" ry="6" fill="url(#hl)"/>
<ellipse cx="1228.3" cy="1480.5" rx="12.0" ry="13.5" fill="#800000"/><ellipse cx="1223.9" cy="1476.1" rx="5.4" ry="6" fill="url(#hl)"/>
<ellipse cx="1274.4" cy="1480.5" rx="12.0" ry="13.5" fill="#800000"/><ellipse cx="1270.0" cy="1476.1" rx="5.4" ry="6" fill="url(#hl)"/>
<ellipse cx="1320.5" cy="1478.5" rx="12.0" ry="13.5" fill="#800000"/><ellipse cx="1316.1" cy="1474.1" rx="5.4" ry="6" fill="url(#hl)"/>
<ellipse cx="1366.6" cy="1469.2" rx="12.0" ry="13.5" fill="#800000"/><ellipse cx="1362.2" cy="1464.8" rx="5.4" ry="6" fill="url(#hl)"/>
<ellipse cx="1412.7" cy="1468.1" rx="12.0" ry="13.5" fill="#800000"/><ellipse cx="1408.3" cy="1463.7" rx="5.4" ry="6" fill="url(#hl)"/>
<ellipse cx="1458.8" cy="1468.0" rx="12.0" ry="13.5" fill="#800000"/><ellipse cx="1454.4" cy="1463.6" rx="5.4" ry="6" fill="url(#hl)"/>
<ellipse cx="1504.9" cy="1457.7" rx="12.0" ry="13.5" fill="#800000"/><ellipse cx="1500.5" cy="1453.3" rx="5.4" ry="6" fill="url(#hl)"/>
<ellipse cx="1551.0" cy="1463.0" rx="12.0" ry="13.5" fill="#800000"/><ellipse cx="1546.6" cy="1458.6" rx="5.4" ry="6" fill="url(#hl)"/>
<ellipse cx="1597.2" cy="1456.6" rx="12.0" ry="13.5" fill="#800000"/><ellipse cx="1592.8" cy="1452.2" rx="5.4" ry="6" fill="url(#hl)"/>
<ellipse cx="1643.3" cy="1457.7" rx="12.0" ry="13.5" fill="#800000"/><ellipse cx="1638.9" cy="1453.3" rx="5.4" ry="6" fill="url(#hl)"/>
<ellipse cx="1689.4" cy="1457.7" rx="12.0" ry="13.5" fill="#800000"/><ellipse cx="1685.0" cy="1453.3" rx="5.4" ry="6" fill="url(#hl)"/>
<ellipse cx="1735.5" cy="1458.8" rx="12.0" ry="13.5" fill="#800000"/><ellipse cx="1731.1" cy="1454.4" rx="5.4" ry="6" fill="url(#hl)"/>
<ellipse cx="1781.6" cy="1456.3" rx="12.0" ry="13.5" fill="#800000"/><ellipse cx="1777.2" cy="1451.9" rx="5.4" ry="6" fill="url(#hl)"/>
<ellipse cx="1827.7" cy="1456.3" rx="12.0" ry="13.5" fill="#800000"/><ellipse cx="1823.3" cy="1451.9" rx="5.4" ry="6" fill="url(#hl)"/>
<ellipse cx="1873.8" cy="1462.5" rx="12.0" ry="13.5" fill="#800000"/><ellipse cx="1869.4" cy="1458.1" rx="5.4" ry="6" fill="url(#hl)"/>
<ellipse cx="1919.9" cy="1458.8" rx="12.0" ry="13.5" fill="#800000"/><ellipse cx="1915.5" cy="1454.4" rx="5.4" ry="6" fill="url(#hl)"/>
<ellipse cx="1966.0" cy="1460.0" rx="12.0" ry="13.5" fill="#800000"/><ellipse cx="1961.6" cy="1455.6" rx="5.4" ry="6" fill="url(#hl)"/>
<ellipse cx="2012.1" cy="1456.3" rx="12.0" ry="13.5" fill="#800000"/><ellipse cx="2007.7" cy="1451.9" rx="5.4" ry="6" fill="url(#hl)"/>
<ellipse cx="2058.3" cy="1461.2" rx="12.0" ry="13.5" fill="#800000"/><ellipse cx="2053.9" cy="1456.8" rx="5.4" ry="6" fill="url(#hl)"/>
<ellipse cx="2104.4" cy="1456.3" rx="12.0" ry="13.5" fill="#800000"/><ellipse cx="2100.0" cy="1451.9" rx="5.4" ry="6" fill="url(#hl)"/>
<ellipse cx="2150.5" cy="1461.2" rx="12.0" ry="13.5" fill="#800000"/><ellipse cx="2146.1" cy="1456.8" rx="5.4" ry="6" fill="url(#hl)"/>
<ellipse cx="2196.6" cy="1457.6" rx="12.0" ry="13.5" fill="#800000"/><ellipse cx="2192.2" cy="1453.2" rx="5.4" ry="6" fill="url(#hl)"/>
<polygon points="355.0,373.0 364.5,373.0 364.5,533.0 374.5,535.0 375.5,625.0 378.0,675.0 382.0,700.0 384.5,760.0 394.0,785.0 406.3,826.6 417.0,868.0 425.0,909.5 437.5,951.0 443.0,985.0 448.0,998.0 440.0,1002.0 433.0,985.0 430.0,951.0 412.0,909.5 397.0,868.0 391.0,826.6 378.0,785.0 371.0,700.0 367.0,680.0 355.0,672.0" fill="#808000" stroke="#808000" stroke-width="1.5" stroke-linejoin="round"/>
<ellipse cx="352.2" cy="663.0" rx="12.0" ry="13.5" fill="#808000"/><ellipse cx="347.8" cy="658.6" rx="5.4" ry="6" fill="url(#hl)"/>
<path d="M359.0,378.0 C359.2,393.3 359.7,444.7 360.0,470.0 C360.3,495.3 359.5,519.0 361.0,530.0 C362.5,541.0 367.3,512.7 369.0,536.0 C370.7,559.3 369.5,639.3 371.0,670.0 C372.5,700.7 375.3,703.3 378.0,720.0 C380.7,736.7 384.2,754.2 387.0,770.0 C389.8,785.8 393.1,799.3 395.0,815.0 C396.9,830.7 397.0,857.2 398.3,864.0 C399.6,870.8 400.7,856.7 403.0,856.0 C405.3,855.3 409.5,854.5 412.0,860.0 C414.5,865.5 416.7,877.3 418.0,889.0 C419.3,900.7 418.0,919.7 420.0,930.0 C422.0,940.3 427.2,942.7 430.0,951.0 C432.8,959.3 434.6,971.7 437.0,980.0 C439.4,988.3 435.5,983.2 444.4,1001.0 C453.3,1018.8 475.1,1067.5 490.5,1087.0 C505.9,1106.5 521.3,1107.0 536.6,1118.0 C552.0,1129.0 567.4,1146.0 582.7,1153.0 C598.1,1160.0 613.5,1164.7 628.9,1160.0 C644.2,1155.3 659.6,1140.2 675.0,1125.0 C690.3,1109.8 705.7,1095.5 721.1,1069.0 C736.4,1042.5 751.8,1002.3 767.2,966.0 C782.6,929.7 803.6,877.5 813.3,851.0 C823.0,824.5 821.2,820.1 825.5,807.0 C829.8,793.9 835.0,782.9 839.3,772.6 C843.6,762.3 848.0,752.6 851.4,745.0 C854.8,737.4 855.0,735.1 859.4,727.0 C863.8,718.9 872.9,702.3 878.0,696.5 C883.1,690.7 885.2,693.1 889.8,692.0 C894.4,690.9 901.3,692.3 905.5,690.0 C909.7,687.7 911.1,683.5 915.0,678.0 C918.9,672.5 924.8,664.7 929.0,657.0 C933.2,649.3 936.7,640.5 940.5,632.0 C944.3,623.5 948.9,613.7 951.6,606.0 C954.3,598.3 954.2,592.4 956.6,586.0 C959.0,579.6 962.3,574.4 965.8,567.5 C969.2,560.6 973.6,549.8 977.3,544.4 C980.9,539.0 984.3,534.5 987.7,535.0 C991.1,535.5 993.7,539.7 997.7,547.4 C1001.8,555.1 1007.8,565.7 1012.0,581.0 C1016.2,596.3 1018.8,617.8 1023.0,639.0 C1027.2,660.2 1033.5,693.1 1037.0,708.0 C1040.5,722.9 1041.2,716.3 1043.8,728.3 C1046.5,740.3 1049.9,765.6 1053.0,780.0 C1056.1,794.4 1059.5,803.1 1062.6,814.6 C1065.7,826.1 1068.7,839.4 1071.8,849.0 C1074.9,858.6 1078.0,866.1 1081.0,872.0 C1084.0,877.9 1084.5,877.2 1090.0,884.4 C1095.4,891.6 1106.1,912.3 1113.8,915.0 C1121.5,917.7 1130.7,908.2 1136.1,900.5 C1141.4,892.8 1142.4,877.1 1146.0,868.8 C1149.6,860.4 1153.8,858.1 1157.6,850.4 C1161.4,842.7 1164.9,832.3 1169.0,822.8 C1173.1,813.3 1178.3,801.2 1182.2,793.5 C1186.0,785.8 1188.8,782.6 1192.0,776.7 C1195.2,770.8 1196.8,762.0 1201.4,758.0 C1206.0,754.0 1215.3,750.6 1219.8,752.5 C1224.3,754.4 1224.4,761.4 1228.3,769.3 C1232.1,777.2 1238.9,790.0 1242.9,799.7 C1246.9,809.4 1248.9,816.6 1252.0,827.4 C1255.1,838.1 1258.6,850.8 1261.3,864.2 C1264.0,877.6 1266.0,897.1 1268.2,908.0 C1270.4,918.9 1271.8,918.0 1274.4,929.5 C1277.0,941.0 1281.2,961.9 1284.0,977.0 C1286.8,992.1 1289.0,1008.0 1291.0,1020.0 C1293.0,1032.0 1293.3,1033.4 1296.0,1049.0 C1298.7,1064.6 1303.3,1090.8 1307.4,1113.6 C1311.5,1136.4 1316.7,1169.7 1320.5,1185.8 C1324.3,1201.9 1327.2,1196.7 1330.4,1210.4 C1333.6,1224.1 1335.8,1248.8 1339.6,1268.0 C1343.4,1287.2 1349.0,1310.9 1353.5,1325.6 C1358.0,1340.3 1363.3,1347.3 1366.6,1356.0 C1369.9,1364.7 1369.8,1370.8 1373.4,1378.0 C1377.0,1385.2 1383.5,1392.7 1388.0,1399.0 C1392.5,1405.3 1396.5,1410.6 1400.6,1416.0 C1404.7,1421.4 1403.0,1424.4 1412.7,1431.5 C1422.4,1438.6 1443.5,1452.6 1458.8,1458.7 C1474.2,1464.8 1489.6,1463.8 1504.9,1468.0 C1520.3,1472.2 1535.7,1480.8 1551.0,1484.0 C1566.4,1487.2 1581.8,1485.5 1597.2,1487.0 C1612.5,1488.5 1627.9,1491.4 1643.3,1493.3 C1658.6,1495.2 1674.0,1497.3 1689.4,1498.5 C1704.8,1499.7 1720.1,1499.1 1735.5,1500.4 C1750.9,1501.8 1766.2,1505.4 1781.6,1506.6 C1797.0,1507.8 1812.3,1506.6 1827.7,1507.8 C1843.1,1509.0 1858.5,1513.5 1873.8,1513.9 C1889.2,1514.3 1904.6,1510.4 1919.9,1510.2 C1935.3,1510.0 1950.7,1512.9 1966.0,1512.7 C1981.4,1512.5 1996.8,1508.8 2012.1,1509.0 C2027.5,1509.2 2042.9,1513.9 2058.3,1513.9 C2073.6,1513.9 2089.0,1509.6 2104.4,1509.0 C2119.7,1508.4 2135.1,1510.8 2150.5,1510.2 C2165.8,1509.6 2188.9,1506.1 2196.6,1505.3" fill="none" stroke="#808000" stroke-width="10.5" stroke-linejoin="round" stroke-linecap="round"/>
<ellipse cx="398.3" cy="864.0" rx="12.0" ry="13.5" fill="#808000"/><ellipse cx="393.9" cy="859.6" rx="5.4" ry="6" fill="url(#hl)"/>
<ellipse cx="444.4" cy="1001.0" rx="12.0" ry="13.5" fill="#808000"/><ellipse cx="440.0" cy="996.6" rx="5.4" ry="6" fill="url(#hl)"/>
<ellipse cx="490.5" cy="1087.0" rx="12.0" ry="13.5" fill="#808000"/><ellipse cx="486.1" cy="1082.6" rx="5.4" ry="6" fill="url(#hl)"/>
<ellipse cx="536.6" cy="1118.0" rx="12.0" ry="13.5" fill="#808000"/><ellipse cx="532.2" cy="1113.6" rx="5.4" ry="6" fill="url(#hl)"/>
<ellipse cx="582.7" cy="1153.0" rx="12.0" ry="13.5" fill="#808000"/><ellipse cx="578.3" cy="1148.6" rx="5.4" ry="6" fill="url(#hl)"/>
<ellipse cx="628.9" cy="1160.0" rx="12.0" ry="13.5" fill="#808000"/><ellipse cx="624.5" cy="1155.6" rx="5.4" ry="6" fill="url(#hl)"/>
<ellipse cx="675.0" cy="1125.0" rx="12.0" ry="13.5" fill="#808000"/><ellipse cx="670.6" cy="1120.6" rx="5.4" ry="6" fill="url(#hl)"/>
<ellipse cx="721.1" cy="1069.0" rx="12.0" ry="13.5" fill="#808000"/><ellipse cx="716.7" cy="1064.6" rx="5.4" ry="6" fill="url(#hl)"/>
<ellipse cx="767.2" cy="966.0" rx="12.0" ry="13.5" fill="#808000"/><ellipse cx="762.8" cy="961.6" rx="5.4" ry="6" fill="url(#hl)"/>
<ellipse cx="813.3" cy="851.0" rx="12.0" ry="13.5" fill="#808000"/><ellipse cx="808.9" cy="846.6" rx="5.4" ry="6" fill="url(#hl)"/>
<ellipse cx="859.4" cy="727.0" rx="12.0" ry="13.5" fill="#808000"/><ellipse cx="855.0" cy="722.6" rx="5.4" ry="6" fill="url(#hl)"/>
<ellipse cx="905.5" cy="690.0" rx="12.0" ry="13.5" fill="#808000"/><ellipse cx="901.1" cy="685.6" rx="5.4" ry="6" fill="url(#hl)"/>
<ellipse cx="951.6" cy="606.0" rx="12.0" ry="13.5" fill="#808000"/><ellipse cx="947.2" cy="601.6" rx="5.4" ry="6" fill="url(#hl)"/>
<ellipse cx="997.7" cy="547.4" rx="12.0" ry="13.5" fill="#808000"/><ellipse cx="993.3" cy="543.0" rx="5.4" ry="6" fill="url(#hl)"/>
<ellipse cx="1043.8" cy="728.3" rx="12.0" ry="13.5" fill="#808000"/><ellipse cx="1039.4" cy="723.9" rx="5.4" ry="6" fill="url(#hl)"/>
<ellipse cx="1090.0" cy="884.4" rx="12.0" ry="13.5" fill="#808000"/><ellipse cx="1085.5" cy="880.0" rx="5.4" ry="6" fill="url(#hl)"/>
<ellipse cx="1136.1" cy="900.5" rx="12.0" ry="13.5" fill="#808000"/><ellipse cx="1131.7" cy="896.1" rx="5.4" ry="6" fill="url(#hl)"/>
<ellipse cx="1182.2" cy="793.5" rx="12.0" ry="13.5" fill="#808000"/><ellipse cx="1177.8" cy="789.1" rx="5.4" ry="6" fill="url(#hl)"/>
<ellipse cx="1228.3" cy="769.3" rx="12.0" ry="13.5" fill="#808000"/><ellipse cx="1223.9" cy="764.9" rx="5.4" ry="6" fill="url(#hl)"/>
<ellipse cx="1274.4" cy="929.5" rx="12.0" ry="13.5" fill="#808000"/><ellipse cx="1270.0" cy="925.1" rx="5.4" ry="6" fill="url(#hl)"/>
<ellipse cx="1320.5" cy="1185.8" rx="12.0" ry="13.5" fill="#808000"/><ellipse cx="1316.1" cy="1181.4" rx="5.4" ry="6" fill="url(#hl)"/>
<ellipse cx="1366.6" cy="1356.0" rx="12.0" ry="13.5" fill="#808000"/><ellipse cx="1362.2" cy="1351.6" rx="5.4" ry="6" fill="url(#hl)"/>
<ellipse cx="1412.7" cy="1431.5" rx="12.0" ry="13.5" fill="#808000"/><ellipse cx="1408.3" cy="1427.1" rx="5.4" ry="6" fill="url(#hl)"/>
<ellipse cx="1458.8" cy="1458.7" rx="12.0" ry="13.5" fill="#808000"/><ellipse cx="1454.4" cy="1454.3" rx="5.4" ry="6" fill="url(#hl)"/>
<ellipse cx="1504.9" cy="1468.0" rx="12.0" ry="13.5" fill="#808000"/><ellipse cx="1500.5" cy="1463.6" rx="5.4" ry="6" fill="url(#hl)"/>
<ellipse cx="1551.0" cy="1484.0" rx="12.0" ry="13.5" fill="#808000"/><ellipse cx="1546.6" cy="1479.6" rx="5.4" ry="6" fill="url(#hl)"/>
<ellipse cx="1597.2" cy="1487.0" rx="12.0" ry="13.5" fill="#808000"/><ellipse cx="1592.8" cy="1482.6" rx="5.4" ry="6" fill="url(#hl)"/>
<ellipse cx="1643.3" cy="1493.3" rx="12.0" ry="13.5" fill="#808000"/><ellipse cx="1638.9" cy="1488.9" rx="5.4" ry="6" fill="url(#hl)"/>
<ellipse cx="1689.4" cy="1498.5" rx="12.0" ry="13.5" fill="#808000"/><ellipse cx="1685.0" cy="1494.1" rx="5.4" ry="6" fill="url(#hl)"/>
<ellipse cx="1735.5" cy="1500.4" rx="12.0" ry="13.5" fill="#808000"/><ellipse cx="1731.1" cy="1496.0" rx="5.4" ry="6" fill="url(#hl)"/>
<ellipse cx="1781.6" cy="1506.6" rx="12.0" ry="13.5" fill="#808000"/><ellipse cx="1777.2" cy="1502.2" rx="5.4" ry="6" fill="url(#hl)"/>
<ellipse cx="1827.7" cy="1507.8" rx="12.0" ry="13.5" fill="#808000"/><ellipse cx="1823.3" cy="1503.4" rx="5.4" ry="6" fill="url(#hl)"/>
<ellipse cx="1873.8" cy="1513.9" rx="12.0" ry="13.5" fill="#808000"/><ellipse cx="1869.4" cy="1509.5" rx="5.4" ry="6" fill="url(#hl)"/>
<ellipse cx="1919.9" cy="1510.2" rx="12.0" ry="13.5" fill="#808000"/><ellipse cx="1915.5" cy="1505.8" rx="5.4" ry="6" fill="url(#hl)"/>
<ellipse cx="1966.0" cy="1512.7" rx="12.0" ry="13.5" fill="#808000"/><ellipse cx="1961.6" cy="1508.3" rx="5.4" ry="6" fill="url(#hl)"/>
<ellipse cx="2012.1" cy="1509.0" rx="12.0" ry="13.5" fill="#808000"/><ellipse cx="2007.7" cy="1504.6" rx="5.4" ry="6" fill="url(#hl)"/>
<ellipse cx="2058.3" cy="1513.9" rx="12.0" ry="13.5" fill="#808000"/><ellipse cx="2053.9" cy="1509.5" rx="5.4" ry="6" fill="url(#hl)"/>
<ellipse cx="2104.4" cy="1509.0" rx="12.0" ry="13.5" fill="#808000"/><ellipse cx="2100.0" cy="1504.6" rx="5.4" ry="6" fill="url(#hl)"/>
<ellipse cx="2150.5" cy="1510.2" rx="12.0" ry="13.5" fill="#808000"/><ellipse cx="2146.1" cy="1505.8" rx="5.4" ry="6" fill="url(#hl)"/>
<ellipse cx="2196.6" cy="1505.3" rx="12.0" ry="13.5" fill="#808000"/><ellipse cx="2192.2" cy="1500.9" rx="5.4" ry="6" fill="url(#hl)"/>
</g>
<g stroke="#000" stroke-width="5.6" fill="none" stroke-linecap="butt">
<rect x="355.0" y="42.2" width="1844.0" height="1484.8"/>
<line x1="324.0" y1="1527.0" x2="355.0" y2="1527.0"/>
<line x1="338.0" y1="1378.5" x2="355.0" y2="1378.5"/>
<line x1="324.0" y1="1230.0" x2="355.0" y2="1230.0"/>
<line x1="338.0" y1="1081.6" x2="355.0" y2="1081.6"/>
<line x1="324.0" y1="933.1" x2="355.0" y2="933.1"/>
<line x1="338.0" y1="784.6" x2="355.0" y2="784.6"/>
<line x1="324.0" y1="636.1" x2="355.0" y2="636.1"/>
<line x1="338.0" y1="487.6" x2="355.0" y2="487.6"/>
<line x1="324.0" y1="339.2" x2="355.0" y2="339.2"/>
<line x1="338.0" y1="190.7" x2="355.0" y2="190.7"/>
<line x1="324.0" y1="42.2" x2="355.0" y2="42.2"/>
<line x1="355.0" y1="1527.0" x2="355.0" y2="1544.0"/>
<line x1="470.2" y1="1527.0" x2="470.2" y2="1559.0"/>
<line x1="585.5" y1="1527.0" x2="585.5" y2="1544.0"/>
<line x1="700.8" y1="1527.0" x2="700.8" y2="1559.0"/>
<line x1="816.0" y1="1527.0" x2="816.0" y2="1544.0"/>
<line x1="931.2" y1="1527.0" x2="931.2" y2="1559.0"/>
<line x1="1046.5" y1="1527.0" x2="1046.5" y2="1544.0"/>
<line x1="1161.8" y1="1527.0" x2="1161.8" y2="1559.0"/>
<line x1="1277.0" y1="1527.0" x2="1277.0" y2="1544.0"/>
<line x1="1392.2" y1="1527.0" x2="1392.2" y2="1559.0"/>
<line x1="1507.5" y1="1527.0" x2="1507.5" y2="1544.0"/>
<line x1="1622.8" y1="1527.0" x2="1622.8" y2="1559.0"/>
<line x1="1738.0" y1="1527.0" x2="1738.0" y2="1544.0"/>
<line x1="1853.2" y1="1527.0" x2="1853.2" y2="1559.0"/>
<line x1="1968.5" y1="1527.0" x2="1968.5" y2="1544.0"/>
<line x1="2083.8" y1="1527.0" x2="2083.8" y2="1559.0"/>
<line x1="2199.0" y1="1527.0" x2="2199.0" y2="1544.0"/>
</g>
<g class="t" id="t1" transform="translate(303.20,1546.50) scale(1,1.035)"><text x="0" y="0" font-family="'Liberation Sans', Arial, sans-serif" font-weight="bold" font-size="70.5" text-anchor="end">0.0</text></g>
<g class="t" id="t2" transform="translate(303.20,1249.54) scale(1,1.035)"><text x="0" y="0" font-family="'Liberation Sans', Arial, sans-serif" font-weight="bold" font-size="70.5" text-anchor="end">0.3</text></g>
<g class="t" id="t3" transform="translate(303.20,952.58) scale(1,1.035)"><text x="0" y="0" font-family="'Liberation Sans', Arial, sans-serif" font-weight="bold" font-size="70.5" text-anchor="end">0.6</text></g>
<g class="t" id="t4" transform="translate(303.20,655.62) scale(1,1.035)"><text x="0" y="0" font-family="'Liberation Sans', Arial, sans-serif" font-weight="bold" font-size="70.5" text-anchor="end">0.9</text></g>
<g class="t" id="t5" transform="translate(303.20,358.66) scale(1,1.035)"><text x="0" y="0" font-family="'Liberation Sans', Arial, sans-serif" font-weight="bold" font-size="70.5" text-anchor="end">1.2</text><rect x="-95.17" y="-8.78" width="13.54" height="10.18" fill="#fff"/><rect x="-71.88" y="-8.78" width="12.70" height="10.18" fill="#fff"/></g>
<g class="t" id="t6" transform="translate(303.20,61.70) scale(1,1.035)"><text x="0" y="0" font-family="'Liberation Sans', Arial, sans-serif" font-weight="bold" font-size="70.5" text-anchor="end">1.5</text><rect x="-95.17" y="-8.78" width="13.54" height="10.18" fill="#fff"/><rect x="-71.88" y="-8.78" width="12.70" height="10.18" fill="#fff"/></g>
<g class="t" id="t7" transform="translate(468.75,1633.50) scale(1,1.035)"><text x="0" y="0" font-family="'Liberation Sans', Arial, sans-serif" font-weight="bold" font-size="71" text-anchor="middle">400</text></g>
<g class="t" id="t8" transform="translate(699.25,1633.50) scale(1,1.035)"><text x="0" y="0" font-family="'Liberation Sans', Arial, sans-serif" font-weight="bold" font-size="71" text-anchor="middle">500</text></g>
<g class="t" id="t9" transform="translate(929.75,1633.50) scale(1,1.035)"><text x="0" y="0" font-family="'Liberation Sans', Arial, sans-serif" font-weight="bold" font-size="71" text-anchor="middle">600</text></g>
<g class="t" id="t10" transform="translate(1160.25,1633.50) scale(1,1.035)"><text x="0" y="0" font-family="'Liberation Sans', Arial, sans-serif" font-weight="bold" font-size="71" text-anchor="middle">700</text></g>
<g class="t" id="t11" transform="translate(1390.75,1633.50) scale(1,1.035)"><text x="0" y="0" font-family="'Liberation Sans', Arial, sans-serif" font-weight="bold" font-size="71" text-anchor="middle">800</text></g>
<g class="t" id="t12" transform="translate(1621.25,1633.50) scale(1,1.035)"><text x="0" y="0" font-family="'Liberation Sans', Arial, sans-serif" font-weight="bold" font-size="71" text-anchor="middle">900</text></g>
<g class="t" id="t13" transform="translate(1851.75,1633.50) scale(1,1.035)"><text x="0" y="0" font-family="'Liberation Sans', Arial, sans-serif" font-weight="bold" font-size="71" text-anchor="middle">1000</text><rect x="-76.14" y="-8.78" width="13.54" height="10.18" fill="#fff"/><rect x="-52.85" y="-8.78" width="12.70" height="10.18" fill="#fff"/></g>
<g class="t" id="t14" transform="translate(2082.25,1633.50) scale(1,1.035)"><text x="0" y="0" font-family="'Liberation Sans', Arial, sans-serif" font-weight="bold" font-size="71" text-anchor="middle">1100</text><rect x="-76.14" y="-8.78" width="13.54" height="10.18" fill="#fff"/><rect x="-52.85" y="-8.78" width="12.70" height="10.18" fill="#fff"/><rect x="-36.67" y="-8.78" width="13.54" height="10.18" fill="#fff"/><rect x="-13.37" y="-8.78" width="12.70" height="10.18" fill="#fff"/></g>
<g class="t" id="t15" transform="translate(1275.00,1760.00) scale(1,1.035)"><text x="0" y="0" font-family="'Liberation Sans', Arial, sans-serif" font-weight="bold" font-size="70" text-anchor="middle">Wavelength <tspan font-size="66.85" dx="0.52" letter-spacing="0.52">(</tspan>nm<tspan font-size="66.85" dx="0.52" letter-spacing="0.52">)</tspan></text></g>
<g class="t" id="t16" transform="translate(93.00,1383.80) rotate(-90)"><text x="0" y="0" font-family="'Liberation Sans', Arial, sans-serif" font-weight="bold" font-size="71.7">Absorption coefficient (10<tspan x="880.3" y="-40" font-size="44.5">5</tspan><tspan x="903.3" y="0"> cm</tspan><tspan x="1015.9" y="-36.5" font-size="50">&#8211;</tspan><tspan x="1040.3" y="-40" font-size="44.5">1</tspan><tspan x="1065.6" y="0">)</tspan></text><rect x="807.39" y="-8.91" width="13.75" height="10.31" fill="#fff"/><rect x="831.07" y="-8.91" width="12.89" height="10.31" fill="#fff"/><rect x="1041.46" y="-46.08" width="9.02" height="7.48" fill="#fff"/><rect x="1056.60" y="-46.08" width="8.52" height="7.48" fill="#fff"/></g>
<rect x="1407" y="145" width="691" height="449" fill="#000"/>
<rect x="1385.9" y="123.9" width="691.2" height="448.7" fill="#fff" stroke="#000" stroke-width="2.2"/>
<line x1="1440" y1="177.7" x2="1599" y2="177.7" stroke="#0000ff" stroke-width="11" stroke-linecap="round"/>
<ellipse cx="1518.3" cy="177.7" rx="12.0" ry="13.5" fill="#0000ff"/><ellipse cx="1513.9" cy="173.3" rx="5.4" ry="6" fill="url(#hl)"/>
<g class="t" id="t17" transform="translate(1619.40,202.00) scale(1,1.035)"><text x="0" y="0" font-family="'Liberation Sans', Arial, sans-serif" font-weight="bold" font-size="70">S2 <tspan font-size="66.85" dx="0.52" letter-spacing="0.52">(</tspan>1:1.4:0<tspan font-size="66.85" dx="0.52" letter-spacing="0.52">)</tspan></text><rect x="131.13" y="-8.69" width="13.39" height="10.09" fill="#fff"/><rect x="154.16" y="-8.69" width="12.56" height="10.09" fill="#fff"/><rect x="193.35" y="-8.69" width="13.39" height="10.09" fill="#fff"/><rect x="216.37" y="-8.69" width="12.56" height="10.09" fill="#fff"/></g>
<line x1="1440" y1="266.4" x2="1599" y2="266.4" stroke="#ff8000" stroke-width="11" stroke-linecap="round"/>
<ellipse cx="1518.3" cy="266.4" rx="12.0" ry="13.5" fill="#ff8000"/><ellipse cx="1513.9" cy="262.0" rx="5.4" ry="6" fill="url(#hl)"/>
<g class="t" id="t18" transform="translate(1619.40,290.70) scale(1,1.035)"><text x="0" y="0" font-family="'Liberation Sans', Arial, sans-serif" font-weight="bold" font-size="70">S3 <tspan font-size="66.85" dx="0.52" letter-spacing="0.52">(</tspan>1:1:0.4<tspan font-size="66.85" dx="0.52" letter-spacing="0.52">)</tspan></text><rect x="131.13" y="-8.69" width="13.39" height="10.09" fill="#fff"/><rect x="154.16" y="-8.69" width="12.56" height="10.09" fill="#fff"/><rect x="193.35" y="-8.69" width="13.39" height="10.09" fill="#fff"/><rect x="216.37" y="-8.69" width="12.56" height="10.09" fill="#fff"/></g>
<line x1="1440" y1="355.1" x2="1599" y2="355.1" stroke="#808000" stroke-width="11" stroke-linecap="round"/>
<ellipse cx="1518.3" cy="355.1" rx="12.0" ry="13.5" fill="#808000"/><ellipse cx="1513.9" cy="350.7" rx="5.4" ry="6" fill="url(#hl)"/>
<g class="t" id="t19" transform="translate(1619.40,379.40) scale(1,1.035)"><text x="0" y="0" font-family="'Liberation Sans', Arial, sans-serif" font-weight="bold" font-size="70">S4 <tspan font-size="66.85" dx="0.52" letter-spacing="0.52">(</tspan>1:0.7:0.7<tspan font-size="66.85" dx="0.52" letter-spacing="0.52">)</tspan></text><rect x="131.13" y="-8.69" width="13.39" height="10.09" fill="#fff"/><rect x="154.16" y="-8.69" width="12.56" height="10.09" fill="#fff"/></g>
<line x1="1440" y1="443.8" x2="1599" y2="443.8" stroke="#008080" stroke-width="11" stroke-linecap="round"/>
<ellipse cx="1518.3" cy="443.8" rx="12.0" ry="13.5" fill="#008080"/><ellipse cx="1513.9" cy="439.4" rx="5.4" ry="6" fill="url(#hl)"/>
<g class="t" id="t20" transform="translate(1619.40,468.10) scale(1,1.035)"><text x="0" y="0" font-family="'Liberation Sans', Arial, sans-serif" font-weight="bold" font-size="70">S5 <tspan font-size="66.85" dx="0.52" letter-spacing="0.52">(</tspan>1:0.4:1<tspan font-size="66.85" dx="0.52" letter-spacing="0.52">)</tspan></text><rect x="131.13" y="-8.69" width="13.39" height="10.09" fill="#fff"/><rect x="154.16" y="-8.69" width="12.56" height="10.09" fill="#fff"/><rect x="313.94" y="-8.69" width="13.39" height="10.09" fill="#fff"/><rect x="336.96" y="-8.69" width="12.56" height="10.09" fill="#fff"/></g>
<line x1="1440" y1="532.5" x2="1599" y2="532.5" stroke="#800000" stroke-width="11" stroke-linecap="round"/>
<ellipse cx="1518.3" cy="532.5" rx="12.0" ry="13.5" fill="#800000"/><ellipse cx="1513.9" cy="528.1" rx="5.4" ry="6" fill="url(#hl)"/>
<g class="t" id="t21" transform="translate(1619.40,556.80) scale(1,1.035)"><text x="0" y="0" font-family="'Liberation Sans', Arial, sans-serif" font-weight="bold" font-size="70">S6 <tspan font-size="66.85" dx="0.52" letter-spacing="0.52">(</tspan>1:0:1.4<tspan font-size="66.85" dx="0.52" letter-spacing="0.52">)</tspan></text><rect x="131.13" y="-8.69" width="13.39" height="10.09" fill="#fff"/><rect x="154.16" y="-8.69" width="12.56" height="10.09" fill="#fff"/><rect x="255.58" y="-8.69" width="13.39" height="10.09" fill="#fff"/><rect x="278.60" y="-8.69" width="12.56" height="10.09" fill="#fff"/></g>
</svg>
</body></html>
